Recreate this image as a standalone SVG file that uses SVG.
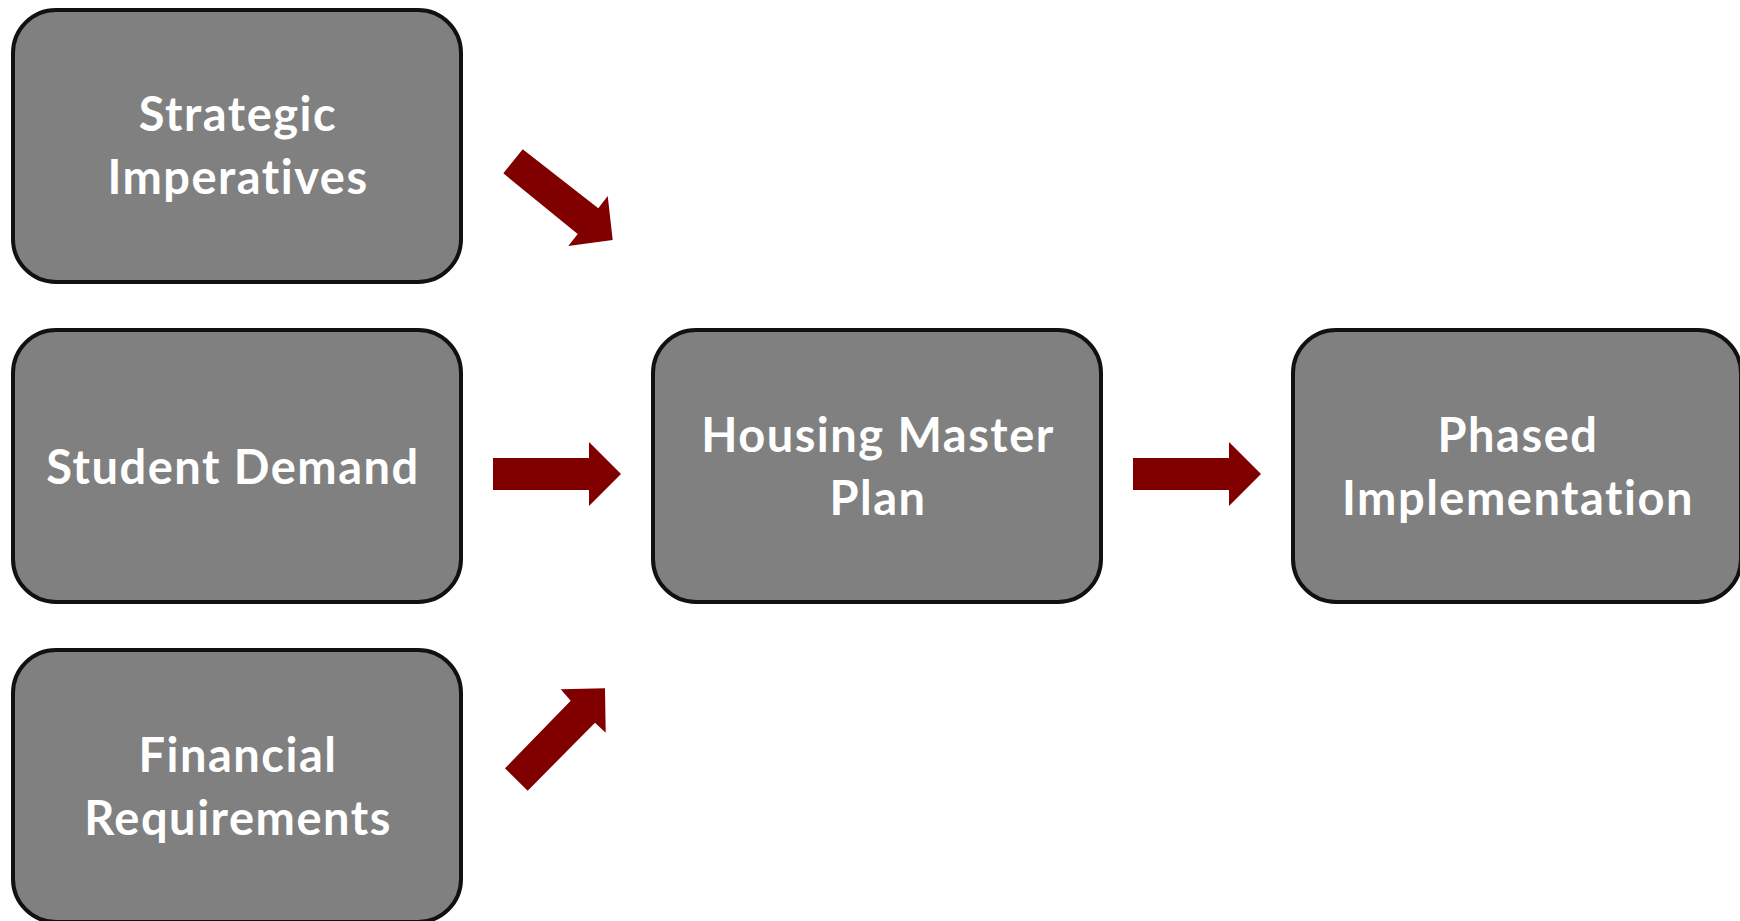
<svg xmlns="http://www.w3.org/2000/svg" width="1740" height="921" viewBox="0 0 1740 921">
<style>
.box{fill:#808080;stroke:#111;stroke-width:4}
.lbl{font-family:Lato,"Open Sans","Liberation Sans",sans-serif;font-weight:bold;font-size:47px;fill:#fff;text-anchor:middle;letter-spacing:1.5px}
.arr{fill:#800000}
</style>
<rect width="1740" height="921" fill="#fff"/>
<g id="strategic">
<rect class="box" x="13" y="10" width="448" height="272" rx="43" ry="43"/>
<text class="lbl" x="238" y="131">Strategic</text>
<text class="lbl" x="238" y="194">Imperatives</text>
</g>
<g id="student">
<rect class="box" x="13" y="330" width="448" height="272" rx="43" ry="43"/>
<text class="lbl" x="233" y="484">Student Demand</text>
</g>
<g id="financial">
<rect class="box" x="13" y="650" width="448" height="272" rx="43" ry="43"/>
<text class="lbl" x="238" y="772">Financial</text>
<text class="lbl" x="238" y="835">Requirements</text>
</g>
<g id="housing">
<rect class="box" x="653" y="330" width="448" height="272" rx="43" ry="43"/>
<text class="lbl" x="878" y="452">Housing Master</text>
<text class="lbl" x="878" y="515">Plan</text>
</g>
<g id="phased">
<rect class="box" x="1293" y="330" width="448" height="272" rx="43" ry="43"/>
<text class="lbl" x="1518" y="452">Phased</text>
<text class="lbl" x="1518" y="515">Implementation</text>
</g>
<g id="connectors">
<polygon class="arr" points="522.7,149.3 598.3,208.3 607.7,196 612.7,240 568.3,246 577.7,234 503.3,173.3"/>
<polygon class="arr" points="493,458 589,458 589,442 621,474 589,506 589,490 493,490"/>
<polygon class="arr" points="505,768.3 570.7,700.7 560.7,689.3 605,688.3 605.7,732.7 595,722.7 527.7,790.7"/>
<polygon class="arr" points="1133,458 1229,458 1229,442 1261,474 1229,506 1229,490 1133,490"/>
</g>
</svg>
